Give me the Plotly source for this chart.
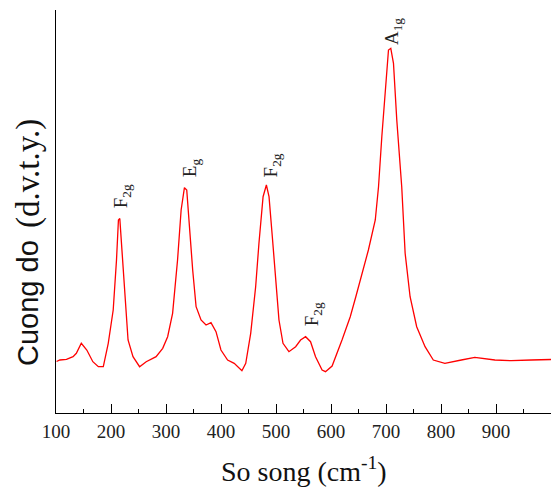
import plotly.graph_objects as go

# Raman spectrum
wavenumber = [101, 107, 119, 125, 131, 137, 146, 156, 167, 177, 186, 195, 204, 210,
              213.5, 216, 219, 225, 231, 240, 252, 264, 282, 294, 303, 312, 321, 327.5,
              333.5, 337.7, 342.5, 348.5, 354.7, 363.7, 372.8, 381.8, 390.9, 399.9, 412,
              424, 438, 445, 454, 463, 469, 476.5, 482.5, 487.3, 493.3, 499.5, 505.4,
              512.7, 523.5, 535.7, 544.7, 553.8, 562.8, 571.9, 583.8, 590, 602, 620,
              635, 645, 653, 660, 668, 680.5, 686.4, 692.4, 698.6, 704.5, 708.7, 713.6, 719.6,
              728.6, 734.8, 743.8, 755.8, 771, 786, 807, 837, 861.5, 898, 928, 964, 994, 1000]
intensity = [51.5, 53, 53.7, 54.7, 56.3, 59.7, 69.7, 63, 51.3, 46.3, 46.3, 69.7, 103, 153,
             193, 194.5, 169.7, 119.7, 73, 56.3, 46.3, 51.3, 56.3, 64.7, 76.3, 99.7, 153, 203,
             225.3, 223, 186.3, 143, 106.3, 93, 88, 90.3, 81.3, 63, 53,
             49.7, 42.3, 49.7, 79.7, 126.3, 169.7, 216.3, 228, 216.3, 176.3, 133, 93,
             69.7, 61.3, 66.3, 73, 76.3, 71.3, 56.3, 43, 41.3, 47, 73,
             96.3, 116, 133, 145, 163, 193, 226.3, 276.3, 326.3, 363, 364.7, 349.7, 293,
             226.3, 159.7, 116.3, 86.3, 66.3, 53, 49.7, 53, 55.7, 53, 52.3, 53, 53.7, 53.5]

peak_wavenumber = [216, 333.5, 482.5, 553.8, 708.7]
peak_intensity = [194.5, 225.3, 228, 76.3, 364.7]
peak_labels = ["F<sub>2g</sub>", "E<sub>g</sub>", "F<sub>2g</sub>", "F<sub>2g</sub>", "A<sub>1g</sub>"]

x_tick_values = [100, 200, 300, 400, 500, 600, 700, 800, 900]
x_tick_labels = ["100", "200", "300", "400", "500", "600", "700", "800", "900"]

y_title_sans = "Cuong do"
y_title_serif = "(d.v.t.y.)"
x_title = "So song (cm<sup>-1</sup>)"

SERIF = "Liberation Serif"
SANS = "Liberation Sans"

fig = go.Figure()
fig.add_trace(go.Scatter(x=wavenumber, y=intensity, mode="lines",
                         line=dict(color="#FF0000", width=1.3), showlegend=False,
                         hoverinfo="skip"))

label_shift = [(2, 22), (6, 20), (6, 20), (7, 22), (3, 17)]
for px, py, lab, (dx, dy) in zip(peak_wavenumber, peak_intensity, peak_labels, label_shift):
    fig.add_annotation(x=px, y=py, text=lab, textangle=-90, showarrow=False,
                       xanchor="center", yanchor="middle", xshift=dx, yshift=dy,
                       font=dict(family=SERIF, size=19, color="#222222"))

# Y title (two fonts, as in the reference)
fig.add_annotation(
    xref="paper", yref="paper", x=0, y=(413 - 303) / 403, xshift=-28, textangle=-90,
    showarrow=False, xanchor="center", yanchor="middle",
    text=y_title_sans, font=dict(family=SANS, size=29, color="#111111"))
fig.add_annotation(
    xref="paper", yref="paper", x=0, y=(413 - 174) / 403, xshift=-27, textangle=-90,
    showarrow=False, xanchor="center", yanchor="middle",
    text=y_title_serif, font=dict(family=SERIF, size=33, color="#111111"))

# X title
fig.add_annotation(
    xref="paper", yref="paper", x=0.5, y=0, yshift=-56, showarrow=False,
    xanchor="center", yanchor="middle",
    text=x_title, font=dict(family=SERIF, size=28, color="#111111"))

fig.update_layout(
    width=551, height=489,
    margin=dict(l=56, r=0, t=10, b=76),
    paper_bgcolor="white", plot_bgcolor="white",
    xaxis=dict(range=[100, 1000], showgrid=False, zeroline=False,
               showline=True, linecolor="black", linewidth=1,
               tickmode="array", tickvals=x_tick_values, ticktext=x_tick_labels,
               ticks="inside", ticklen=9, tickcolor="black", tickwidth=1,
               minor=dict(ticks="inside", ticklen=4, dtick=50, tickcolor="black", tickwidth=1,
                          showgrid=False),
               tickfont=dict(family=SERIF, size=19, color="#222222"),
               ticklabelstandoff=1),
    yaxis=dict(range=[0, 403], showgrid=False, zeroline=False,
               showline=True, linecolor="black", linewidth=1,
               showticklabels=False, ticks=""),
)

fig.write_html("out.html", config={"displayModeBar": False},
               post_script="document.body.style.margin='0';document.body.style.overflow='hidden';")
